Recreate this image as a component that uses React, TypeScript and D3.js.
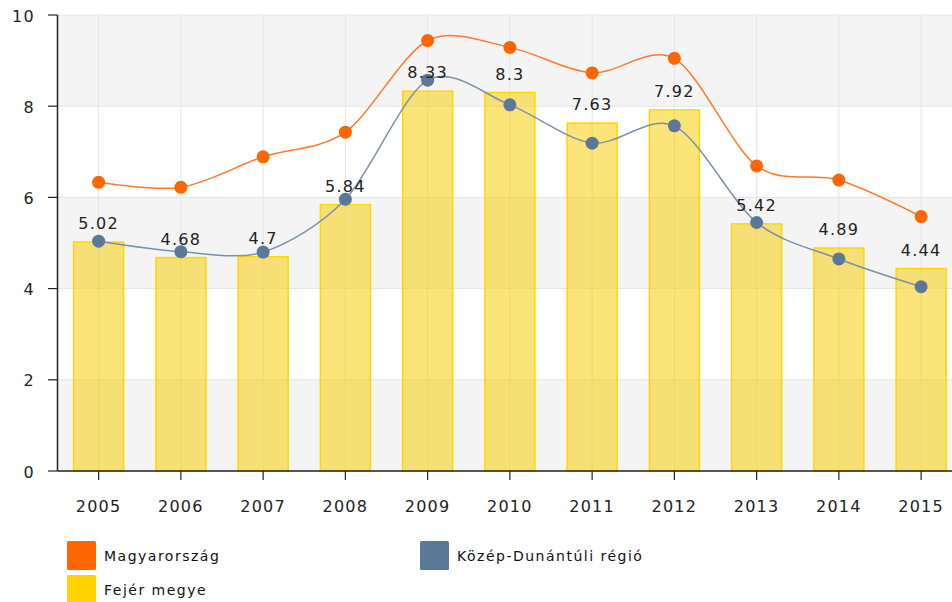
import React from "react";
import * as d3 from "d3";

const years = ["2005","2006","2007","2008","2009","2010","2011","2012","2013","2014","2015"];
const magyarorszag = [6.33, 6.22, 6.89, 7.43, 9.44, 9.29, 8.73, 9.05, 6.69, 6.38, 5.58];
const kozepDunantul = [5.04, 4.81, 4.80, 5.96, 8.57, 8.03, 7.19, 7.57, 5.45, 4.65, 4.04];
const fejerMegye = [5.02, 4.68, 4.7, 5.84, 8.33, 8.3, 7.63, 7.92, 5.42, 4.89, 4.44];
const yTicks = [0, 2, 4, 6, 8, 10];
const legendItems = [
  { name: "Magyarország", color: "#ff6600" },
  { name: "Közép-Dunántúli régió", color: "#5c7899" },
  { name: "Fejér megye", color: "#ffd200" },
];

const W = 952, H = 602;
const left = 57.5, top = 15, bottom = 471;
const step = 82.25;
const right = left + step * years.length;
const font = "'DejaVu Sans', Verdana, sans-serif";

export default function App() {
  const x = d3.scaleBand<string>().domain(years).range([left, right]).paddingInner(0).paddingOuter(0);
  const y = d3.scaleLinear().domain([0, 10]).range([bottom, top]);
  const cx = (yr: string) => (x(yr) as number) + x.bandwidth() / 2;
  const barW = 50;
  const line = d3.line<number>()
    .x((_, i) => cx(years[i]))
    .y((v) => y(v))
    .curve(d3.curveCardinal.tension(0.1));

  const bands = [0, 4, 8];
  return (
    <svg width={W} height={H} style={{ position: "absolute", left: 0, top: 0, background: "#fff" }} fontFamily={font}>
      {bands.map((b) => (
        <rect key={b} x={left} y={y(b + 2)} width={right - left} height={y(b) - y(b + 2)} fill="#f4f4f4" />
      ))}
      {yTicks.map((t) => (
        <line key={"h" + t} x1={left} x2={right} y1={y(t)} y2={y(t)} stroke="#e4e4e4" strokeWidth={1} />
      ))}
      {years.map((yr) => (
        <line key={"v" + yr} x1={cx(yr)} x2={cx(yr)} y1={top} y2={bottom} stroke="#e4e4e4" strokeWidth={1} />
      ))}
      {fejerMegye.map((v, i) => (
        <rect key={"b" + i} x={cx(years[i]) - barW / 2} y={y(v)} width={barW} height={bottom - y(v)}
          fill="rgba(248,206,0,0.52)" stroke="#ffd700" strokeWidth={1.5} />
      ))}
      <path d={line(magyarorszag) || ""} fill="none" stroke="#ff7a30" strokeWidth={1.5} />
      <path d={line(kozepDunantul) || ""} fill="none" stroke="#7b91ab" strokeWidth={1.5} />
      {magyarorszag.map((v, i) => (
        <circle key={"m" + i} cx={cx(years[i])} cy={y(v)} r={6.5} fill="#ff6600" />
      ))}
      {kozepDunantul.map((v, i) => (
        <circle key={"k" + i} cx={cx(years[i])} cy={y(v)} r={6.5} fill="#5c7899" />
      ))}
      {fejerMegye.map((v, i) => (
        <text key={"l" + i} x={cx(years[i])} y={y(v) - 13} textAnchor="middle" fontSize={16}
          letterSpacing={1.3} fill="#222">{String(v)}</text>
      ))}
      <line x1={left} x2={left} y1={top} y2={bottom} stroke="#222" strokeWidth={1.5} />
      <line x1={left} x2={right} y1={bottom} y2={bottom} stroke="#222" strokeWidth={1.5} />
      {yTicks.map((t) => (
        <g key={"yt" + t}>
          <line x1={48} x2={left} y1={y(t)} y2={y(t)} stroke="#222" strokeWidth={1.2} />
          <text x={35} y={y(t) + 6.5} textAnchor="end" fontSize={16} letterSpacing={1.3} fill="#222">{t}</text>
        </g>
      ))}
      {years.map((yr) => (
        <g key={"xt" + yr}>
          <line x1={cx(yr)} x2={cx(yr)} y1={bottom} y2={bottom + 9} stroke="#222" strokeWidth={1.2} />
          <text x={cx(yr)} y={512} textAnchor="middle" fontSize={16} letterSpacing={1.3} fill="#222">{yr}</text>
        </g>
      ))}
      {legendItems.map((it, i) => {
        const lx = i === 1 ? 420 : 67;
        const ly = i === 2 ? 575 : 541;
        return (
          <g key={"lg" + i}>
            <rect x={lx} y={ly} width={29} height={29} rx={1.5} fill={it.color} />
            <text x={lx + 37} y={ly + 20} fontSize={14} letterSpacing={1.5} fill="#111">{it.name}</text>
          </g>
        );
      })}
    </svg>
  );
}
